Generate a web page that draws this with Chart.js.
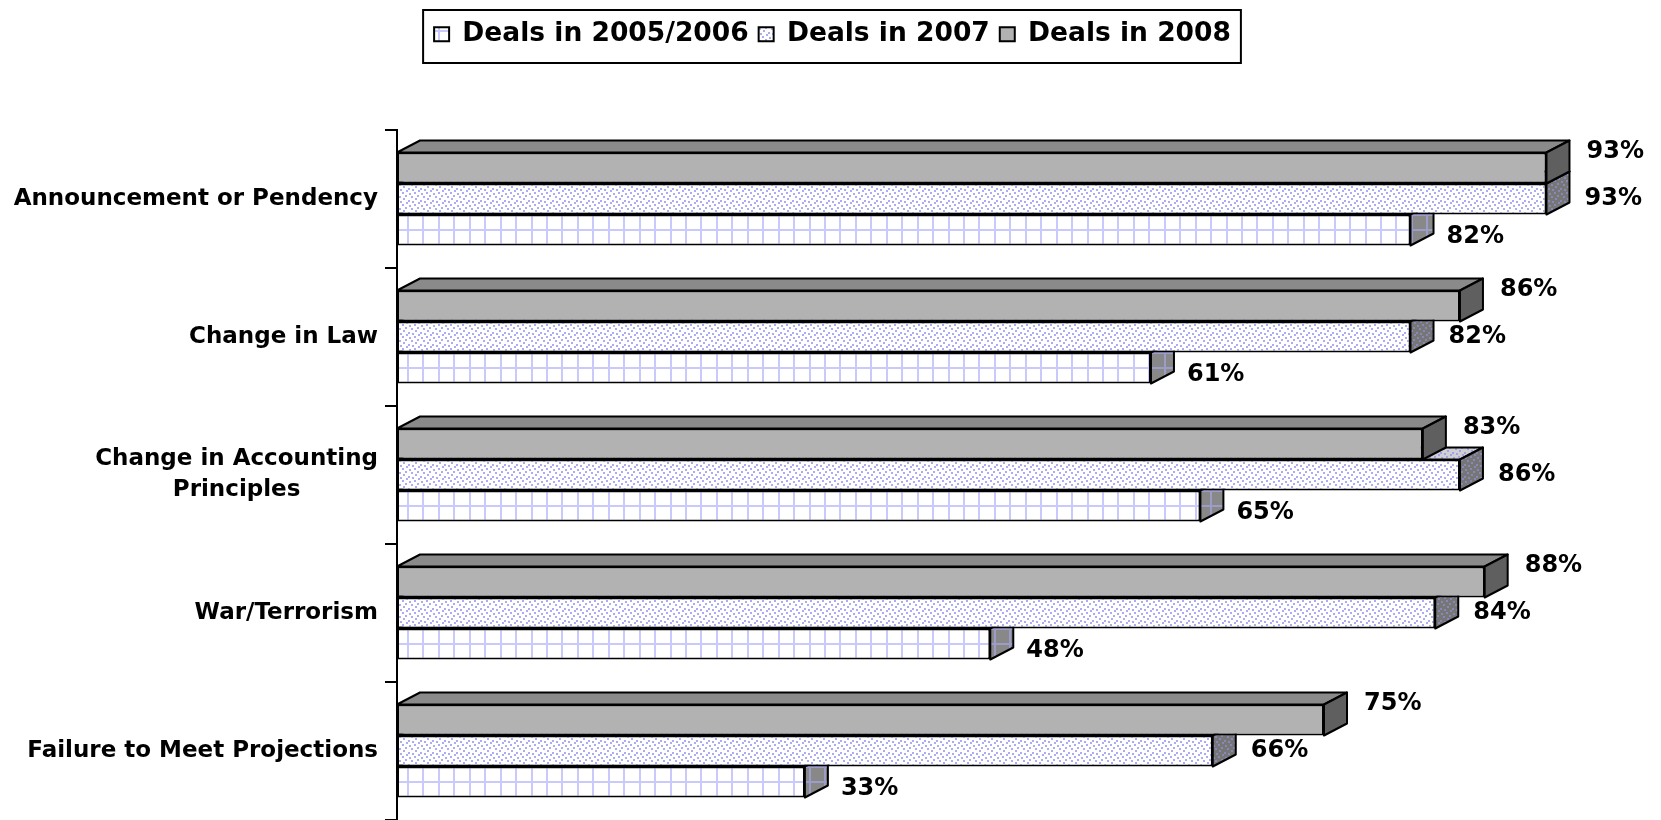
<!DOCTYPE html>
<html>
<head>
<meta charset="utf-8">
<script src="https://cdn.jsdelivr.net/npm/chart.js@4.4.1/dist/chart.umd.min.js"></script>
<style>
html,body{margin:0;padding:0;background:#fff;}
#wrap{width:1661px;height:820px;position:relative;}
</style>
</head>
<body>
<div id="wrap"><canvas id="c"></canvas></div>
<script>
// data
const categories = [
  ["Announcement or Pendency"],
  ["Change in Law"],
  ["Change in Accounting", "Principles"],
  ["War/Terrorism"],
  ["Failure to Meet Projections"]
];
const seriesNames = ["Deals in 2008", "Deals in 2007", "Deals in 2005/2006"];
const deals2008 = [93, 86, 83, 88, 75];
const deals2007 = [93, 82, 86, 84, 66];
const deals0506 = [82, 61, 65, 48, 33];

const FONT = '"DejaVu Sans", Verdana, sans-serif';
const depthX = 23, depthY = 12;

const canvas = document.getElementById("c");
const ctx = canvas.getContext("2d");

/* patterns */
function tile(w, h, bg, draw) {
  const c = document.createElement("canvas");
  c.width = w; c.height = h;
  const g = c.getContext("2d");
  g.fillStyle = bg; g.fillRect(0, 0, w, h);
  draw(g);
  return c;
}
function gridPattern(bg, line) {
  const t = tile(139, 46, bg, g => {
    g.fillStyle = line;
    for (let k = 0; k < 9; k++) g.fillRect(Math.round(k * 139 / 9), 0, 2, 46);
    for (let k = 0; k < 3; k++) g.fillRect(0, Math.round(k * 46 / 3), 139, 2);
  });
  const p = ctx.createPattern(t, "repeat");
  p.setTransform(new DOMMatrix().translate(407, -1));
  return p;
}
function dotPattern(bg, dot) {
  const t = tile(12, 12, bg, g => {
    g.fillStyle = dot;
    [[1,1],[6,0],[9,3],[3,4],[7,6],[0,8],[4,9],[10,10]].forEach(d => g.fillRect(d[0], d[1], 2, 2));
  });
  return ctx.createPattern(t, "repeat");
}

const fronts = ["#b2b2b2", dotPattern("#ffffff", "#acacf4"), gridPattern("#ffffff", "#c9c9fb")];
const tops = ["#8a8a8a", dotPattern("#cfcfd6", "#a2a2dc"), gridPattern("#c8c8c8", "#a8a8d8")];
const sides = ["#5f5f5f", dotPattern("#767676", "#8888b8"), gridPattern("#888888", "#9c9cc8")];
const labelDy = [-16, 0, 7];
const labelDx = [40, 38, 36];

/* 3d faces after each dataset */
const bar3d = {
  id: "bar3d",
  afterDatasetDraw(chart, args) {
    const i = args.index;
    const c = chart.ctx;
    args.meta.data.forEach(el => {
      const p = el.getProps(["x", "y", "base", "height"], true);
      const x0 = p.base, x1 = p.x;
      const yt = p.y - p.height / 2, yb = p.y + p.height / 2;
      c.save();
      c.lineWidth = 2;
      c.strokeStyle = "#000";
      c.lineJoin = "round";
      c.beginPath();
      c.moveTo(x0, yt); c.lineTo(x0 + depthX, yt - depthY);
      c.lineTo(x1 + depthX, yt - depthY); c.lineTo(x1, yt);
      c.closePath();
      c.fillStyle = tops[i]; c.fill(); c.stroke();
      c.beginPath();
      c.moveTo(x1, yt); c.lineTo(x1 + depthX, yt - depthY);
      c.lineTo(x1 + depthX, yb - depthY); c.lineTo(x1, yb);
      c.closePath();
      c.fillStyle = sides[i]; c.fill(); c.stroke();
      c.restore();
    });
  }
};

/* value labels */
const valueLabels = {
  id: "valueLabels",
  afterDatasetsDraw(chart) {
    const c = chart.ctx;
    c.save();
    c.font = "bold 24px " + FONT;
    c.fillStyle = "#000";
    c.textAlign = "left";
    c.textBaseline = "middle";
    chart.data.datasets.forEach((ds, i) => {
      chart.getDatasetMeta(i).data.forEach((el, j) => {
        c.fillText(ds.data[j] + "%", el.x + labelDx[i], el.y + labelDy[i]);
      });
    });
    c.restore();
  }
};

/* category labels, right aligned, lines centred */
const catLabels = {
  id: "catLabels",
  afterDraw(chart) {
    const s = chart.scales.y;
    const c = chart.ctx;
    c.save();
    c.font = "bold 23px " + FONT;
    c.fillStyle = "#000";
    c.textAlign = "center";
    c.textBaseline = "middle";
    categories.forEach((lines, i) => {
      const yc = s.getPixelForValue(i);
      const w = Math.max(...lines.map(l => c.measureText(l).width));
      const cx = 378 - w / 2;
      lines.forEach((l, k) => {
        c.fillText(l, cx, yc + (k - (lines.length - 1) / 2) * 31);
      });
    });
    c.restore();
  }
};

/* legend height, shift + frame */
const legendFrame = {
  id: "legendFrame",
  beforeLayout(chart) {
    const lg = chart.legend;
    if (lg && !lg._fixed) {
      const fit = lg.fit;
      lg.fit = function () { fit.call(this); this.height = 119; };
      lg._fixed = true;
    }
  },
  afterLayout(chart) {
    chart.legend.left += 16;
    chart.legend.right += 16;
  },
  afterDraw(chart) {
    const hb = chart.legend.legendHitBoxes;
    if (!hb || !hb.length) return;
    const l = Math.min(...hb.map(b => b.left)) - 11;
    const r = Math.max(...hb.map(b => b.left + b.width)) + 10;
    const c = chart.ctx;
    c.save();
    c.lineWidth = 2;
    c.strokeStyle = "#000";
    c.strokeRect(l, 10, r - l, 53);
    c.restore();
  }
};

new Chart(canvas, {
  type: "bar",
  data: {
    labels: categories,
    datasets: [
      { label: seriesNames[0], data: deals2008, backgroundColor: fronts[0] },
      { label: seriesNames[1], data: deals2007, backgroundColor: fronts[1] },
      { label: seriesNames[2], data: deals0506, backgroundColor: fronts[2] }
    ].map(d => Object.assign(d, {
      borderColor: "#000",
      borderWidth: 2,
      borderSkipped: false,
      categoryPercentage: 0.674,
      barPercentage: 1
    }))
  },
  options: {
    indexAxis: "y",
    responsive: true,
    maintainAspectRatio: false,
    animation: false,
    layout: { padding: { top: 11, right: 28, bottom: 0, left: 0 } },
    scales: {
      x: { display: false, min: 0, max: 100 },
      y: {
        grid: { offset: true, drawOnChartArea: false, drawTicks: true, tickLength: 12, color: "#000", lineWidth: 2 },
        border: { display: true, color: "#000", width: 2 },
        ticks: { display: false },
        afterFit(s) { s.width = 397; }
      }
    },
    plugins: {
      legend: {
        position: "top",
        reverse: true,
        labels: {
          color: "#000",
          font: { family: FONT, size: 26.5, weight: "bold" },
          boxWidth: 15,
          boxHeight: 14,
          padding: 10
        }
      },
      tooltip: { enabled: false }
    }
  },
  plugins: [bar3d, valueLabels, catLabels, legendFrame]
});
</script>
</body>
</html>
